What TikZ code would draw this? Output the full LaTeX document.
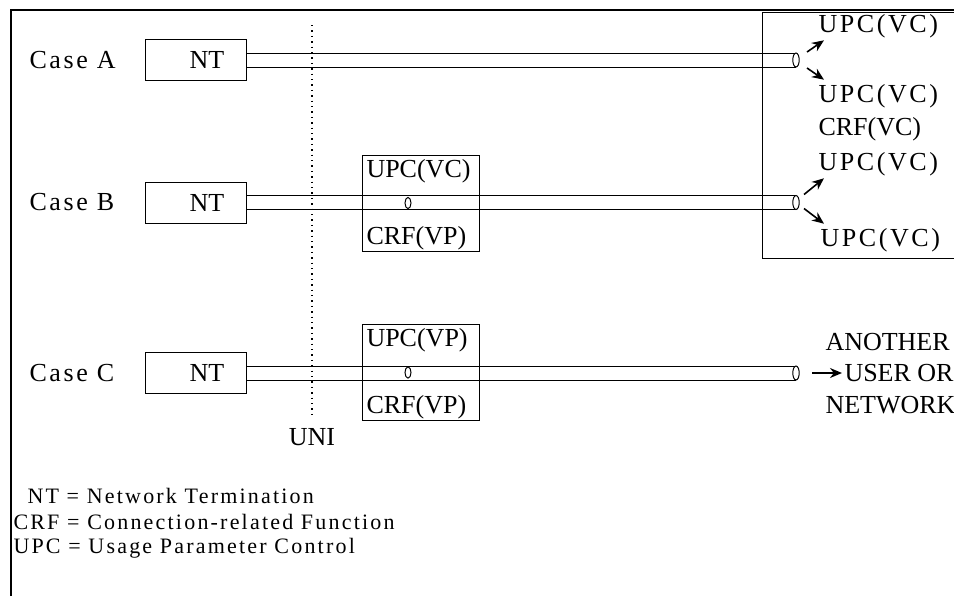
\documentclass[tikz,border=0pt]{standalone}
\usepackage{fontspec}
\setmainfont{Liberation Serif}
\newfontfamily\wideserif[LetterSpace=10]{Liberation Serif}
\usetikzlibrary{arrows.meta, positioning}

\begin{document}
\begin{tikzpicture}[x=0.5pt, y=-0.5pt, line width=0.5pt,
    lbl/.style={font=\fontsize{13}{15}\selectfont, inner sep=0pt},
    widelbl/.style={font=\wideserif\fontsize{13}{15}\selectfont, inner sep=0pt},
    legend/.style={font=\wideserif\fontsize{11}{13}\selectfont, inner sep=0pt, anchor=west},
    ntbox/.style={draw, minimum width=50.5pt, minimum height=20.5pt, inner sep=0pt},
    fnbox/.style={draw, minimum width=58.5pt, minimum height=48pt, inner sep=0pt},
    ptr/.style={-{Stealth[length=6pt, width=5pt]}, line width=0.8pt}]
    \useasboundingbox (0,0) rectangle (954,596);
    % Frame
    \draw[line width=1pt] (11,596) -- (11,10) -- (954,10);
    % Cases with NT and the connection tube
    \foreach \c/\y in {A/60, B/202.5, C/373} {
      \node[widelbl, anchor=west] (case\c) at (29,\y) {Case \c};
      \node[ntbox] (nt\c) at (196,\y) {};
      \node[lbl] (ntlbl\c) at (207,\y) {NT};
      \coordinate (end\c) at (796,\y);
      \draw ([yshift=3.5pt]nt\c.east) -- ([yshift=3.5pt]end\c);
      \draw ([yshift=-3.5pt]nt\c.east) -- ([yshift=-3.5pt]end\c);
      \draw[fill=white] (end\c) ellipse [x radius=1.6pt, y radius=3.5pt];
    }
    % UNI reference point
    \coordinate (unitop) at (312,25);
    \node[lbl] (uni) at (312,437) {UNI};
    \draw[dotted, line width=0.7pt] (unitop) -- ([yshift=5pt]uni.north);
    % Functions at the UNI side
    \foreach \c/\y/\up in {B/203/VC, C/372.5/VP} {
      \node[fnbox] (fn\c) at (420.5,\y) {};
      \node[lbl, anchor=west] (upc\c) at (366,\y-32) {UPC(\up)};
      \node[lbl, anchor=west] (crf\c) at (366,\y+35) {CRF(VP)};
      \draw (408,\y) ellipse [x radius=1.5pt, y radius=2.8pt];
    }
    % Network side for cases A and B
    \draw (954,12) -- (762,12) -- (762,258) -- (954,258);
    \node[widelbl, anchor=west] (upcA1) at (818,26) {UPC(VC)};
    \node[widelbl, anchor=west] (upcA2) at (818,96) {UPC(VC)};
    \node[lbl, anchor=west] (crfB) at (818,129) {CRF(VC)};
    \node[widelbl, anchor=west] (upcB1) at (818,164) {UPC(VC)};
    \node[widelbl, anchor=west] (upcB2) at (820,240) {UPC(VC)};
    \draw[ptr] ([shift={(5.5pt,4pt)}]endA) -- ([shift={(3pt,-1pt)}]upcA1.south west);
    \draw[ptr] ([shift={(5.5pt,-4pt)}]endA) -- ([shift={(3pt,2pt)}]upcA2.north west);
    \draw[ptr] ([shift={(4pt,4pt)}]endB) -- ([shift={(3pt,-1pt)}]upcB1.south west);
    \draw[ptr] ([shift={(4pt,-3pt)}]endB) -- ([shift={(2pt,2pt)}]upcB2.north west);
    % Case C leaves the network
    \node[lbl, anchor=west] (userC) at (844,373) {USER OR};
    \node[lbl, anchor=west] (anotherC) at (825,342) {ANOTHER};
    \node[lbl, anchor=west] (networkC) at (825,405) {NETWORK};
    \draw[ptr] ([xshift=8pt]endC) -- ([xshift=-1pt]userC.west);
    % Legend
    \node[legend] (keyNT) at (27,496) {NT = Network Termination};
    \node[legend] (keyCRF) at (13,522) {CRF = Connection-related Function};
    \node[legend] (keyUPC) at (13,548) {UPC = Usage Parameter Control};
\end{tikzpicture}
\end{document}
